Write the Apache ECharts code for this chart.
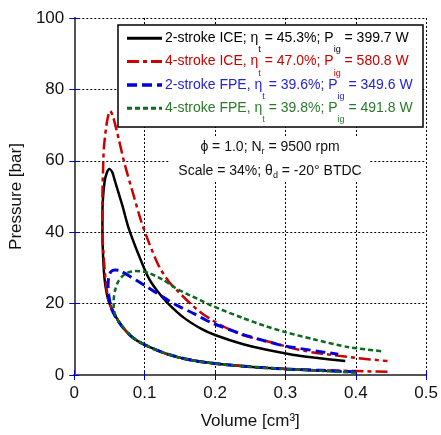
<!DOCTYPE html>
<html><head><meta charset="utf-8">
<script src="https://cdn.jsdelivr.net/npm/echarts@6/dist/echarts.min.js"></script>
<style>html,body{margin:0;padding:0;background:#fff}#c{width:441px;height:435px}</style>
</head><body><div id="c"></div>
<script>
// Tick labels
const xTicks = [0, 0.1, 0.2, 0.3, 0.4, 0.5];
const yTicks = [0, 20, 40, 60, 80, 100];

// Series names and legend values
const seriesNames = ['2-stroke ICE', '4-stroke ICE', '2-stroke FPE', '4-stroke FPE'];
const etaValues = ['45.3%', '47.0%', '39.6%', '39.8%'];
const powerValues = ['399.7 W', '580.8 W', '349.6 W', '491.8 W'];

// [Volume cm^3, Pressure bar] : compression from BDC, then expansion
const ice2Stroke = [[0.38,1.0],[0.35,1.2],[0.3,1.7],[0.25,2.3],[0.2,3.2],[0.16,4.4],[0.13,6],[0.105,8],[0.091,9.4],[0.08,11],[0.068,13.6],[0.06,16],[0.055,18],[0.05,20],[0.046,23],[0.043,27],[0.041,33],[0.04,40],[0.04,45],[0.041,50],[0.043,54],[0.046,56.5],[0.05,57.7],[0.054,56.8],[0.058,54.2],[0.068,47.7],[0.077,41.3],[0.091,33.9],[0.105,27.4],[0.118,23.5],[0.132,20.3],[0.156,16],[0.18,13],[0.2,11.2],[0.24,8.6],[0.27,7.2],[0.31,5.7],[0.34,4.9],[0.385,3.9]];
const ice4Stroke = [[0.445,0.9],[0.4,1.1],[0.35,1.3],[0.3,1.7],[0.25,2.3],[0.2,3.2],[0.16,4.4],[0.13,6],[0.105,8],[0.091,9.4],[0.08,11],[0.068,13.6],[0.06,16],[0.055,18],[0.05,20],[0.046,24],[0.043,30],[0.04,40],[0.04,50],[0.041,58],[0.042,63.4],[0.045,69],[0.048,72.5],[0.051,74],[0.055,72.5],[0.063,66.2],[0.072,58.8],[0.084,50.5],[0.095,43.1],[0.107,36.6],[0.121,30.2],[0.135,26],[0.146,23.7],[0.165,20],[0.183,17],[0.21,13.8],[0.239,11.2],[0.285,8.9],[0.308,7.6],[0.34,6.3],[0.4,4.8],[0.445,3.9]];
const fpe2Stroke = [[0.4,0.9],[0.35,1.3],[0.3,1.7],[0.25,2.3],[0.2,3.2],[0.16,4.4],[0.13,6],[0.105,8],[0.091,9.4],[0.08,11],[0.068,13.6],[0.06,15.8],[0.054,18],[0.051,20],[0.049,22.5],[0.048,25],[0.049,27.5],[0.052,28.9],[0.058,29.4],[0.065,29.2],[0.081,27.4],[0.1,25.1],[0.128,21.6],[0.146,19.5],[0.17,17.2],[0.193,14.8],[0.239,11.4],[0.27,9.6],[0.3,8.1],[0.348,6.6],[0.375,5.8]];
const fpe4Stroke = [[0.4,0.6],[0.35,1.2],[0.3,1.7],[0.25,2.3],[0.2,3.2],[0.16,4.4],[0.13,6],[0.105,8],[0.091,9.4],[0.08,11],[0.07,13.2],[0.063,15],[0.058,17],[0.056,19],[0.056,21],[0.058,23.7],[0.062,26],[0.068,27.6],[0.076,28.7],[0.086,29.1],[0.097,29],[0.107,28.5],[0.125,26.8],[0.142,24.6],[0.16,22.7],[0.179,21],[0.193,19.6],[0.239,16],[0.27,13.8],[0.3,12],[0.34,10],[0.39,7.8],[0.44,6.6]];

const FONT = 'Liberation Sans, Arial, sans-serif';
const lineColors = ['#000000', '#cc0000', '#0000dd', '#0a6a1e'];
const textColors = ['#000000', '#cc0000', '#2424d4', '#2a7a2a'];
const dashes = ['solid', [12, 4, 4, 4], [10, 5], [5, 3]];
const widths = [2.5, 2.5, 3, 2.5];
const datasets = [ice2Stroke, ice4Stroke, fpe2Stroke, fpe4Stroke];

const chart = echarts.init(document.getElementById('c'), null, {renderer: 'canvas'});

const axisLine = {show: true, lineStyle: {color: '#555', width: 2}};
const tick = {show: true, inside: true, length: 5, lineStyle: {color: '#0000cc', width: 1}};
const grid = {show: true, lineStyle: {color: '#000', type: [2, 2], width: 1}};

const subRich = {s: {fontSize: 9, fontFamily: FONT, padding: [23, 0, 0, 0]}};
const legendEls = [{
  type: 'rect', z: 100, shape: {x: 118, y: 25, width: 305, height: 102},
  style: {fill: '#fff', stroke: '#000', lineWidth: 1.5}
}];
seriesNames.forEach((n, i) => {
  const cy = 38.3 + 23.3 * i;
  const sep = i === 0 ? ';' : ',';
  legendEls.push({
    type: 'line', z: 101, shape: {x1: 127, y1: cy, x2: 162, y2: cy},
    style: {stroke: lineColors[i], lineWidth: widths[i] + 0.5, lineDash: dashes[i] === 'solid' ? null : dashes[i]}
  });
  legendEls.push({
    type: 'text', z: 101, x: 165, y: cy,
    style: {
      text: n + sep + ' η{s|t} = ' + etaValues[i] + '; P{s|ig} = ' + powerValues[i],
      fontSize: 14, fontFamily: FONT, fill: textColors[i],
      align: 'left', verticalAlign: 'middle',
      rich: {s: Object.assign({fill: textColors[i]}, subRich.s)}
    }
  });
});

const annoRich = {s: {fontSize: 9, fontFamily: FONT, fill: '#111', padding: [10, 0, 0, 0]}};
const annoEls = [
  {type: 'rect', z: 100, shape: {x: 170, y: 136, width: 200, height: 44}, style: {fill: '#fff'}},
  {type: 'text', z: 101, x: 270, y: 146.7, style: {text: 'ϕ = 1.0; N{s|r} = 9500 rpm', fontSize: 14, fontFamily: FONT, fill: '#111', align: 'center', verticalAlign: 'middle', rich: annoRich}},
  {type: 'text', z: 101, x: 270, y: 170.7, style: {text: 'Scale = 34%; θ{s|d} = -20° BTDC', fontSize: 14, fontFamily: FONT, fill: '#111', align: 'center', verticalAlign: 'middle', rich: annoRich}}
];

chart.setOption({
  animation: false,
  backgroundColor: '#fff',
  textStyle: {fontFamily: FONT},
  grid: {left: 68, right: 13, top: 18, bottom: 56, containLabel: false},
  xAxis: [{
    type: 'value', min: 0, max: 0.5, interval: 0.1, position: 'bottom',
    name: 'Volume [cm³]', nameLocation: 'middle', nameGap: 38,
    nameTextStyle: {fontSize: 17, color: '#111', fontFamily: FONT},
    axisLine: axisLine, axisTick: tick, splitLine: grid,
    axisLabel: {fontSize: 17, color: '#111', margin: 10, fontFamily: FONT,
      formatter: v => { const t = xTicks.find(x => Math.abs(x - v) < 1e-9); return t === undefined ? '' : String(t); }}
  }, {
    type: 'value', min: 0, max: 0.5, interval: 0.1, position: 'top',
    axisLine: axisLine, axisTick: tick, splitLine: {show: false}, axisLabel: {show: false}
  }],
  yAxis: [{
    type: 'value', min: 0, max: 100, interval: 20, position: 'left',
    name: 'Pressure [bar]', nameLocation: 'middle', nameGap: 41,
    nameTextStyle: {fontSize: 17, color: '#111', fontFamily: FONT},
    axisLine: axisLine, axisTick: tick, splitLine: grid,
    axisLabel: {fontSize: 17, color: '#111', margin: 10, fontFamily: FONT,
      formatter: v => { const t = yTicks.find(x => Math.abs(x - v) < 1e-9); return t === undefined ? '' : String(t); }}
  }, {
    type: 'value', min: 0, max: 100, interval: 20, position: 'right',
    axisLine: axisLine, axisTick: tick, splitLine: {show: false}, axisLabel: {show: false}
  }],
  graphic: legendEls.concat(annoEls),
  series: datasets.map((d, i) => ({
    name: seriesNames[i], type: 'line', data: d, showSymbol: false, symbol: 'none',
    smooth: 0.25, clip: true,
    lineStyle: {color: lineColors[i], width: widths[i], type: dashes[i]},
    itemStyle: {color: lineColors[i]}
  }))
});
</script></body></html>
